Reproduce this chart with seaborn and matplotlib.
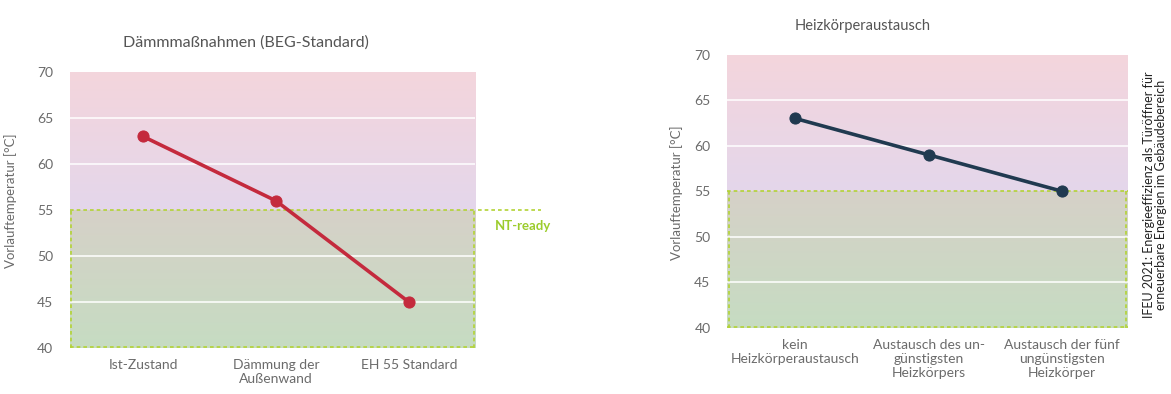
# imports
import numpy as np
import pandas as pd
import matplotlib
matplotlib.use('Agg')
import matplotlib.pyplot as plt
from matplotlib.colors import LinearSegmentedColormap
import seaborn as sns

# data
left_title = 'Dämmmaßnahmen (BEG-Standard)'
left_categories = ['Ist-Zustand', 'Dämmung der\nAußenwand', 'EH 55 Standard']
left_values = [63, 56, 45]

right_title = 'Heizkörperaustausch'
right_categories = ['kein\nHeizkörperaustausch',
                    'Austausch des un-\ngünstigsten\nHeizkörpers',
                    'Austausch der fünf\nungünstigsten\nHeizkörper']
right_values = [63, 59, 55]

y_ticks = [40, 45, 50, 55, 60, 65, 70]
nt_ready = 55
y_label = 'Vorlauftemperatur [°C]'
source_text = 'IFEU 2021: Energieeffizienz als Türöffner für\nerneuerbare Energien im Gebäudebereich'

sns.set_theme(style='white')
plt.rcParams['font.family'] = ['Lato', 'DejaVu Sans']

grey = '#6b6b6b'
dash_green = '#b3d335'

# background gradients: pink->lavender above 55, grey->green below
top_cmap = LinearSegmentedColormap.from_list('top', ['#e4d7eb', '#f4d5dc'])
bot_cmap = LinearSegmentedColormap.from_list('bot', ['#c6dcc2', '#d6d1c8'])


def draw_panel(ax, categories, values, color, xlim):
    df = pd.DataFrame({'cat': categories, 'val': values})
    sns.lineplot(data=df, x='cat', y='val', ax=ax, color=color, linewidth=2.6,
                 marker='o', markersize=8, markeredgecolor=color, zorder=5, sort=False)
    ax.set_xlim(*xlim)
    ax.set_ylim(y_ticks[0], y_ticks[-1])

    grad = np.linspace(0, 1, 256).reshape(-1, 1)
    ax.imshow(grad, cmap=top_cmap, aspect='auto', origin='lower',
              extent=(xlim[0], xlim[1], nt_ready, y_ticks[-1]), zorder=0)
    ax.imshow(grad, cmap=bot_cmap, aspect='auto', origin='lower',
              extent=(xlim[0], xlim[1], y_ticks[0], nt_ready), zorder=0)

    for y in y_ticks[1:-1]:
        if y != nt_ready:
            ax.axhline(y, color='white', linewidth=1.3, alpha=0.85, zorder=1)

    # dashed frame of the NT-ready zone
    kw = dict(color=dash_green, linewidth=1.2, linestyle=(0, (2.2, 1.8)), zorder=2)
    ax.axhline(nt_ready, **kw)
    ax.axhline(y_ticks[0] + 0.1, **kw)
    ax.vlines([xlim[0] + 0.01, xlim[1] - 0.01], y_ticks[0], nt_ready, **kw)

    ax.set_yticks(y_ticks)
    ax.set_xlabel('')
    ax.set_ylabel('')
    ax.tick_params(axis='both', length=0, colors=grey, labelsize=10)
    ax.tick_params(axis='y', pad=12)
    ax.tick_params(axis='x', pad=8)
    for s in ax.spines.values():
        s.set_visible(False)


fig = plt.figure(figsize=(11.71, 3.94), dpi=100)
ax1 = fig.add_axes([0.0598, 0.117, 0.346, 0.700])
ax2 = fig.add_axes([0.621, 0.168, 0.342, 0.693])

draw_panel(ax1, left_categories, left_values, '#c42a3d', (-0.55, 2.5))
draw_panel(ax2, right_categories, right_values, '#203a50', (-0.51, 2.49))

# NT-ready marker outside the left panel
fig.add_artist(plt.Line2D([0.408, 0.462], [0.467, 0.467], color=dash_green,
                          linewidth=1.2, linestyle=(0, (2.2, 1.8))))
fig.text(0.423, 0.415, 'NT-ready', color='#9ccc2c', fontsize=9.5, fontweight='bold')

fig.text(0.21, 0.882, left_title, color='#555555', fontsize=11.5, ha='center')
fig.text(0.737, 0.925, right_title, color='#555555', fontsize=10.5, ha='center')

fig.text(0.009, 0.49, y_label, color=grey, fontsize=9.5, rotation=90, ha='center', va='center')
fig.text(0.578, 0.51, y_label, color=grey, fontsize=9.5, rotation=90, ha='center', va='center')

fig.text(0.986, 0.505, source_text, color='#222222', fontsize=9, rotation=90,
         ha='center', va='center', linespacing=1.0)

fig.savefig('out.png', dpi=100)
